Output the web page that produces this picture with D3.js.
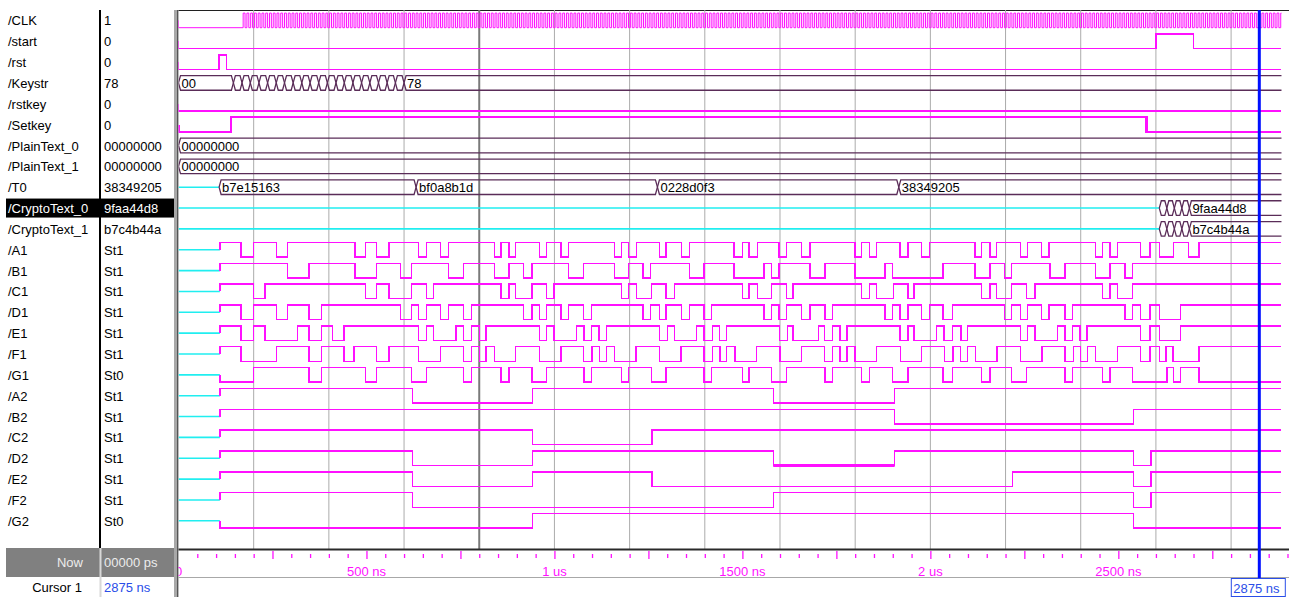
<!DOCTYPE html>
<html>
<head>
<meta charset="utf-8">
<script src="https://cdn.jsdelivr.net/npm/d3@7"></script>
<style>
  body { margin: 0; background: #fff; }
  svg { display: block; font-family: "Liberation Sans", Arial, sans-serif; font-size: 13px; }
</style>
</head>
<body>
<svg id="wave" width="1289" height="597"></svg>
<script>
// signal list and the values shown at the cursor
const signalNames = ["/CLK", "/start", "/rst", "/Keystr", "/rstkey", "/Setkey", "/PlainText_0", "/PlainText_1",
  "/T0", "/CryptoText_0", "/CryptoText_1", "/A1", "/B1", "/C1", "/D1", "/E1", "/F1", "/G1",
  "/A2", "/B2", "/C2", "/D2", "/E2", "/F2", "/G2"];
const cursorValues = ["1", "0", "0", "78", "0", "0", "00000000", "00000000",
  "38349205", "9faa44d8", "b7c4b44a", "St1", "St1", "St1", "St1", "St1", "St1", "St0",
  "St1", "St1", "St1", "St1", "St1", "St1", "St0"];
const selectedSignal = "/CryptoText_0";

// times in ns
const simEnd = 2934;
const cursorTime = 2875;
const clkFirstEdge = 172;   // free running clock, 10 ns period
const clkHalfPeriod = 5;

// logic signals: edge times, level after the first edge (levels then alternate)
const startEdges = [0, 2600, 2700];
const rstEdges = [0, 108, 128];
const rstkeyEdges = [0];
const setkeyEdges = [0, 140, 2575];
const a1Edges = [110,166,199,261,290,470,497,527,560,638,660,697,718,840,858,879,897,960,979,1017,1037,1159,1179,1197,1219,1279,1297,1338,1359,1478,1501,1518,1540,1597,1618,1658,1680,1800,1817,1838,1857,1919,1940,1977,1997,2119,2136,2159,2176,2240,2258,2296,2316,2440,2458,2478,2497,2559,2584,2609,2646,2686,2715];
const b1Edges = [110,290,347,470,527,591,620,718,758,840,879,917,940,1037,1077,1159,1197,1236,1256,1359,1398,1478,1557,1578,1597,1680,1720,1800,1879,1900,2034,2119,2159,2198,2216,2318,2358,2440,2478,2518,2538];
const c1Edges = [110,199,230,497,527,560,620,660,678,858,879,897,940,979,999,1179,1197,1219,1259,1297,1319,1501,1518,1540,1578,1618,1635,1817,1838,1857,1902,1940,1956,2136,2159,2176,2216,2256,2278,2458,2478,2497,2538];
const d1Edges = [110,166,199,261,290,347,381,591,620,638,660,697,718,758,780,917,940,960,979,1017,1037,1077,1099,1236,1256,1279,1297,1338,1359,1398,1418,1557,1578,1597,1618,1658,1680,1720,1740,1879,1900,1919,1940,1977,1997,2034,2059,2198,2216,2240,2258,2296,2316,2358,2378,2518,2538,2559,2584,2609,2666];
const e1Edges = [110,166,199,230,317,347,381,410,440,638,660,678,738,758,780,800,818,960,979,999,1059,1079,1099,1119,1139,1279,1300,1319,1378,1398,1420,1439,1458,1598,1620,1635,1702,1718,1740,1760,1778,1919,1940,1956,2017,2036,2059,2081,2098,2240,2258,2278,2338,2358,2378,2398,2417,2559,2584,2609,2666];
const f1Edges = [110,166,261,347,381,440,467,527,560,638,697,758,780,800,818,840,897,960,1017,1078,1100,1120,1138,1160,1217,1280,1337,1398,1420,1440,1458,1480,1537,1600,1657,1718,1740,1760,1778,1800,1857,1920,1977,2038,2060,2080,2098,2120,2177,2240,2297,2358,2380,2400,2418,2440,2497,2559,2584,2609,2627,2645,2715];
const g1Edges = [110,199,347,381,497,527,620,660,758,780,858,879,940,979,1079,1099,1179,1197,1259,1297,1398,1418,1501,1518,1578,1618,1720,1740,1817,1838,1900,1940,2034,2059,2136,2159,2216,2256,2358,2378,2458,2478,2538,2630,2646,2666,2715];
const a2Edges = [110, 623, 941, 1582, 1905];
const b2Edges = [110, 1905, 2541];
const c2Edges = [110, 941, 1260];
const d2Edges = [110, 623, 941, 1582, 1905, 2541, 2587];
const e2Edges = [110, 623, 941, 1260, 2219, 2541, 2587];
const f2Edges = [110, 623, 1582, 2541, 2587];
const g2Edges = [110, 941, 2541];

// bus signals: segment start times and labels
const keystrTimes = [0,146,169,191,214,237,260,282,305,328,350,373,396,419,441,464,487,509,532,555,577,600];
const keystrLabels = ["00","","","","","","","","","","","","","","","","","","","","","78"];
const plainTimes = [0];
const plainLabels = ["00000000"];
const t0Times = [108, 632, 1274, 1916];
const t0Labels = ["b7e15163", "bf0a8b1d", "0228d0f3", "38349205"];
const crypto0Times = [2609, 2629, 2649, 2669, 2689];
const crypto0Labels = ["", "", "", "", "9faa44d8"];
const crypto1Times = [2609, 2629, 2649, 2669, 2689];
const crypto1Labels = ["", "", "", "", "b7c4b44a"];

// time axis
const axisLabelTimes = [0, 500, 1000, 1500, 2000, 2500];
const axisLabelText = ["0", "500 ns", "1 us", "1500 ns", "2 us", "2500 ns"];
const gridDark = [800];

function initWave() {
  const svg = d3.select("#wave");
  const x = d3.scaleLinear().domain([0, 2954]).range([178.5, 1289]);
  const y = d3.scalePoint().domain(signalNames).range([20.4, 520.8]);
  const amp = 7.3;
  const waveTop = 10, waveBottom = 549;

  const magenta = "#ff10ff", cyan = "#20eef0", busColor = "#5a2c58";

  const clkEdges = [0].concat(d3.range(clkFirstEdge, simEnd, clkHalfPeriod));

  const logic = [
    { name: "/CLK", edges: clkEdges, first: 0, width: 1, smooth: true },
    { name: "/start", edges: startEdges, first: 0 },
    { name: "/rst", edges: rstEdges, first: 0 },
    { name: "/rstkey", edges: rstkeyEdges, first: 0 },
    { name: "/Setkey", edges: setkeyEdges, first: 0, width: 2.2 },
    { name: "/A1", edges: a1Edges, first: 1 },
    { name: "/B1", edges: b1Edges, first: 1 },
    { name: "/C1", edges: c1Edges, first: 1 },
    { name: "/D1", edges: d1Edges, first: 1 },
    { name: "/E1", edges: e1Edges, first: 1 },
    { name: "/F1", edges: f1Edges, first: 1 },
    { name: "/G1", edges: g1Edges, first: 0 },
    { name: "/A2", edges: a2Edges, first: 1 },
    { name: "/B2", edges: b2Edges, first: 1 },
    { name: "/C2", edges: c2Edges, first: 1 },
    { name: "/D2", edges: d2Edges, first: 1 },
    { name: "/E2", edges: e2Edges, first: 1 },
    { name: "/F2", edges: f2Edges, first: 1 },
    { name: "/G2", edges: g2Edges, first: 0 }
  ];

  const buses = [
    { name: "/Keystr", times: keystrTimes, labels: keystrLabels },
    { name: "/PlainText_0", times: plainTimes, labels: plainLabels },
    { name: "/PlainText_1", times: plainTimes, labels: plainLabels },
    { name: "/T0", times: t0Times, labels: t0Labels },
    { name: "/CryptoText_0", times: crypto0Times, labels: crypto0Labels },
    { name: "/CryptoText_1", times: crypto1Times, labels: crypto1Labels }
  ];

  // ---- left panes ----
  const sel = y(selectedSignal);
  svg.append("rect").attr("x", 6).attr("y", sel - 9.5).attr("width", 93).attr("height", 19).attr("fill", "#000");
  svg.append("rect").attr("x", 101).attr("y", sel - 9.5).attr("width", 73).attr("height", 19).attr("fill", "#000");

  svg.append("g").selectAll("text")
    .data(signalNames)
    .join("text")
    .attr("x", 8)
    .attr("y", d => y(d) + 5)
    .attr("fill", d => d === selectedSignal ? "#fff" : "#000")
    .text(d => d);

  svg.append("g").selectAll("text")
    .data(signalNames)
    .join("text")
    .attr("x", 104)
    .attr("y", d => y(d) + 5)
    .attr("fill", d => d === selectedSignal ? "#fff" : "#000")
    .text((d, i) => cursorValues[i]);

  svg.append("rect").attr("x", 99).attr("y", waveTop).attr("width", 2).attr("height", 538).attr("fill", "#000");
  svg.append("rect").attr("x", 174).attr("y", waveTop).attr("width", 3.5).attr("height", 597 - waveTop).attr("fill", "#a8a8a8");
  svg.append("line").attr("x1", 177.8).attr("x2", 177.8).attr("y1", waveTop).attr("y2", 597)
    .attr("stroke", "#202020").attr("stroke-width", 1);

  // Now / Cursor rows
  svg.append("rect").attr("x", 6).attr("y", 548).attr("width", 168).attr("height", 29).attr("fill", "#808080");
  svg.append("rect").attr("x", 99.5).attr("y", 548).attr("width", 2).attr("height", 49).attr("fill", "#d8d8d8");
  svg.append("text").attr("x", 83).attr("y", 567).attr("text-anchor", "end").attr("fill", "#ececec").text("Now");
  svg.append("text").attr("x", 104).attr("y", 567).attr("fill", "#ececec").text("00000 ps");
  svg.append("text").attr("x", 82).attr("y", 592).attr("text-anchor", "end").attr("fill", "#000").text("Cursor 1");
  svg.append("text").attr("x", 104).attr("y", 592).attr("fill", "#2a4ee8").text(`${cursorTime} ns`);

  // ---- wave pane ----
  svg.append("defs").append("clipPath").attr("id", "wave-clip")
    .append("rect").attr("x", 178.5).attr("y", 0).attr("width", 1289 - 178.5).attr("height", 597);
  const g = svg.append("g").attr("clip-path", "url(#wave-clip)");

  g.append("line").attr("x1", 178).attr("x2", 1289).attr("y1", waveTop + 0.5).attr("y2", waveTop + 0.5)
    .attr("stroke", "#202020");

  // grid
  g.append("g").selectAll("line")
    .data(d3.range(200, simEnd, 200))
    .join("line")
    .attr("x1", d => x(d)).attr("x2", d => x(d))
    .attr("y1", waveTop).attr("y2", waveBottom)
    .attr("stroke", d => gridDark.includes(d) ? "#7a7a7a" : "#ababab")
    .attr("stroke-width", d => gridDark.includes(d) ? 2 : 1);

  const line = d3.line().x(d => x(d[0])).y(d => d[1]);

  // logic waves
  logic.forEach(s => {
    const c = y(s.name);
    const lv = l => l ? c - amp : c + amp;
    const e0 = s.edges[0];
    if (e0 > 0) {
      g.append("path").attr("d", line([[0, c], [e0, c]]))
        .attr("fill", "none").attr("stroke", cyan).attr("stroke-width", 1.6);
    }
    const pts = [[e0, c]];
    let level = s.first;
    pts.push([e0, lv(level)]);
    s.edges.slice(1).forEach(t => {
      pts.push([t, lv(level)]);
      level = 1 - level;
      pts.push([t, lv(level)]);
    });
    pts.push([simEnd, lv(level)]);
    g.append("path").attr("d", line(pts))
      .attr("fill", "none").attr("stroke", magenta)
      .attr("stroke-width", s.width || 1.4)
      .attr("shape-rendering", s.smooth ? "auto" : "crispEdges");
  });

  // D2 drawn heavy while low in the middle
  const d2c = y("/D2");
  g.append("path").attr("d", line([[d2Edges[3], d2c + amp], [d2Edges[4], d2c + amp]]))
    .attr("stroke", magenta).attr("stroke-width", 3).attr("fill", "none");

  // buses
  buses.forEach(b => {
    const c = y(b.name);
    const top = c - amp, bot = c + amp;
    if (b.times[0] > 0) {
      g.append("path").attr("d", line([[0, c], [b.times[0], c]]))
        .attr("fill", "none").attr("stroke", cyan).attr("stroke-width", 1.6);
    }
    b.times.forEach((t, i) => {
      const t2 = i < b.times.length - 1 ? b.times[i + 1] : simEnd;
      const x1 = x(t), x2 = x(t2);
      const closed = i < b.times.length - 1;
      const p = d3.path();
      p.moveTo(x1, c);
      p.lineTo(x1 + 2, top);
      p.lineTo(closed ? x2 - 2 : x2, top);
      if (closed) { p.lineTo(x2, c); p.moveTo(x1, c); }
      else { p.moveTo(x1, c); }
      p.lineTo(x1 + 2, bot);
      p.lineTo(closed ? x2 - 2 : x2, bot);
      if (closed) p.lineTo(x2, c);
      g.append("path").attr("d", p.toString())
        .attr("fill", "none").attr("stroke", busColor).attr("stroke-width", 1.3);
      if (b.labels[i]) {
        g.append("text").attr("x", x1 + 3).attr("y", c + 5).attr("fill", "#000").text(b.labels[i]);
      }
    });
  });

  // time axis
  const axisY = 549.5;
  g.append("line").attr("x1", 178).attr("x2", 1289).attr("y1", axisY).attr("y2", axisY)
    .attr("stroke", "#2a2a2a").attr("stroke-width", 2);
  g.append("line").attr("x1", 178).attr("x2", 1289).attr("y1", 577.5).attr("y2", 577.5)
    .attr("stroke", "#a8a8a8").attr("stroke-width", 1);

  const minorAxis = d3.axisBottom(x).tickValues(d3.range(50, 2954, 50).filter(t => t % 250 !== 0))
    .tickSize(4).tickFormat("");
  const majorAxis = d3.axisBottom(x).tickValues(d3.range(250, 2954, 250)).tickSize(8).tickFormat("");
  const gm = g.append("g").attr("transform", "translate(0,554)").call(minorAxis);
  const gM = g.append("g").attr("transform", "translate(0,551)").call(majorAxis);
  [gm, gM].forEach(a => {
    a.select(".domain").remove();
    a.selectAll(".tick line").attr("stroke", magenta).attr("stroke-width", 1.3);
  });

  g.append("g").selectAll("text")
    .data(axisLabelTimes)
    .join("text")
    .attr("x", d => x(d))
    .attr("y", 576)
    .attr("text-anchor", "middle")
    .attr("fill", magenta)
    .text((d, i) => axisLabelText[i]);

  // cursor
  const cx = x(cursorTime);
  g.append("line").attr("x1", cx).attr("x2", cx).attr("y1", waveTop).attr("y2", 597)
    .attr("stroke", "#0010ff").attr("stroke-width", 3);
  g.append("rect").attr("x", cx - 28).attr("y", 578.5).attr("width", 54).attr("height", 18)
    .attr("fill", "#fff").attr("stroke", "#2a4ee8").attr("stroke-width", 1);
  g.append("text").attr("x", cx - 26).attr("y", 593).attr("fill", "#2a4ee8").text(`${cursorTime} ns`);
}

initWave();
</script>
</body>
</html>
